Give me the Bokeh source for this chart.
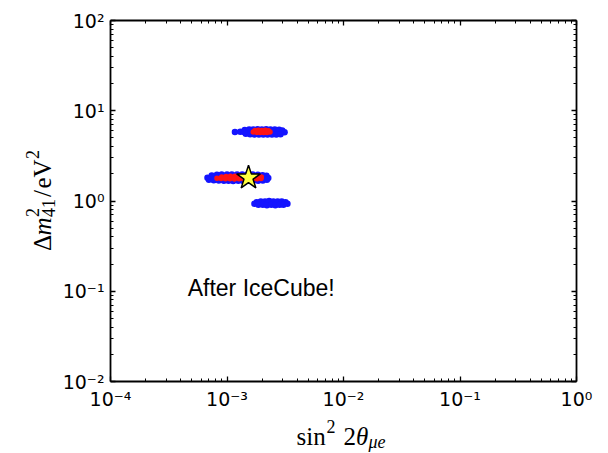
import math
from bokeh.plotting import figure
from bokeh.models import Range1d, LogAxis, FixedTicker, CustomJSTickFormatter, Label
from bokeh.embed import file_html
from bokeh.resources import INLINE

# ---------------- data ----------------
# blue points: all allowed fit points, three islands
blue_x = [
    # middle island (~1.8 eV^2)
    7.4e-4, 8.2e-4, 9.0e-4, 1.00e-3, 1.10e-3, 1.22e-3, 1.35e-3, 1.50e-3, 1.66e-3, 1.84e-3, 2.02e-3, 2.18e-3,
    6.8e-4, 7.4e-4, 8.1e-4, 8.9e-4, 9.8e-4, 1.08e-3, 1.19e-3, 1.31e-3, 1.44e-3, 1.58e-3, 1.74e-3, 1.91e-3, 2.10e-3, 2.26e-3,
    7.0e-4, 7.7e-4, 8.5e-4, 9.4e-4, 1.03e-3, 1.13e-3, 1.25e-3, 1.38e-3, 1.52e-3, 1.68e-3, 1.85e-3, 2.03e-3, 2.20e-3,
    # upper island (~5.8 eV^2)
    1.42e-3, 1.55e-3, 1.68e-3, 1.83e-3, 1.99e-3, 2.17e-3, 2.36e-3, 2.57e-3, 2.80e-3, 2.98e-3,
    1.17e-3, 1.30e-3, 1.40e-3, 1.52e-3, 1.65e-3, 1.80e-3, 1.96e-3, 2.13e-3, 2.32e-3, 2.52e-3, 2.74e-3, 2.97e-3, 3.12e-3,
    1.45e-3, 1.58e-3, 1.72e-3, 1.88e-3, 2.05e-3, 2.23e-3, 2.43e-3, 2.65e-3, 2.88e-3,
    # lower island (~0.95 eV^2)
    1.80e-3, 1.95e-3, 2.12e-3, 2.30e-3, 2.50e-3, 2.72e-3, 2.95e-3, 3.18e-3,
    1.72e-3, 1.86e-3, 2.03e-3, 2.20e-3, 2.40e-3, 2.60e-3, 2.83e-3, 3.05e-3, 3.30e-3,
]
blue_y = [
    1.92, 1.95, 1.96, 1.96, 1.97, 1.96, 1.97, 1.96, 1.96, 1.95, 1.93, 1.90,
    1.81, 1.82, 1.81, 1.82, 1.81, 1.82, 1.81, 1.82, 1.81, 1.82, 1.81, 1.82, 1.81, 1.80,
    1.72, 1.70, 1.69, 1.68, 1.68, 1.67, 1.68, 1.67, 1.68, 1.67, 1.68, 1.69, 1.72,
    6.10, 6.20, 6.20, 6.22, 6.20, 6.22, 6.20, 6.20, 6.15, 6.05,
    5.80, 5.85, 5.80, 5.81, 5.80, 5.82, 5.80, 5.81, 5.80, 5.82, 5.80, 5.80, 5.78,
    5.55, 5.50, 5.46, 5.45, 5.44, 5.45, 5.46, 5.45, 5.50,
    0.97, 0.99, 0.99, 1.00, 0.99, 0.99, 0.99, 0.97,
    0.93, 0.91, 0.91, 0.90, 0.91, 0.90, 0.91, 0.91, 0.93,
]

# red points: best-fit cores
red_x = [
    # middle island
    9.0e-4, 9.8e-4, 1.07e-3, 1.17e-3, 1.28e-3, 1.40e-3, 1.53e-3, 1.67e-3, 1.83e-3, 1.97e-3,
    8.2e-4, 8.9e-4, 9.7e-4, 1.06e-3, 1.16e-3, 1.27e-3, 1.39e-3, 1.52e-3, 1.66e-3, 1.81e-3, 1.96e-3,
    # upper island
    1.74e-3, 1.86e-3, 1.99e-3, 2.13e-3, 2.27e-3,
    1.68e-3, 1.80e-3, 1.93e-3, 2.06e-3, 2.20e-3, 2.34e-3,
]
red_y = [
    1.85, 1.87, 1.88, 1.88, 1.89, 1.88, 1.89, 1.88, 1.87, 1.85,
    1.79, 1.77, 1.76, 1.76, 1.75, 1.76, 1.75, 1.76, 1.75, 1.76, 1.78,
    6.05, 6.07, 6.05, 6.07, 6.00,
    5.80, 5.75, 5.74, 5.75, 5.74, 5.80,
]

# best-fit point (star)
best_x = [1.53e-3]
best_y = [1.81]

x_decades = [1e-4, 1e-3, 1e-2, 1e-1, 1.0]
y_decades = [1e-2, 1e-1, 1.0, 1e1, 1e2]

# ---------------- layout geometry ----------------
W, H = 608, 453
FL, FR, FT, FB = 110, 32, 20, 72          # plot box inside the canvas
ppd_x = (W - FL - FR) / 4.0               # pixels per decade
ppd_y = (H - FT - FB) / 4.0
x_start = 10 ** (-4 - FL / ppd_x)
x_end = 10 ** (0 + FR / ppd_x)
y_start = 10 ** (-2 - FB / ppd_y)
y_end = 10 ** (2 + FT / ppd_y)

p = figure(width=W, height=H, x_axis_type="log", y_axis_type="log",
           x_range=Range1d(x_start, x_end), y_range=Range1d(y_start, y_end),
           output_backend="svg", toolbar_location=None, title=None,
           min_border=0)
p.grid.visible = False
p.background_fill_color = "white"
p.border_fill_color = "white"
p.outline_line_color = None

def minors(decs):
    out = []
    for d in decs[:-1]:
        for k in range(2, 10):
            out.append(k * d)
    return out

fmt_code = r"""
const e = Math.round(Math.log10(tick));
const m = {"-":"\u207b","0":"\u2070","1":"\u00b9","2":"\u00b2","3":"\u00b3","4":"\u2074"};
let s = "";
for (const c of String(e)) s += m[c];
return "10" + s;
"""

def style_axis(ax, decs, loc, show_labels):
    ax.ticker = FixedTicker(ticks=decs, minor_ticks=minors(decs))
    if show_labels:
        ax.formatter = CustomJSTickFormatter(code=fmt_code)
    else:
        ax.formatter = CustomJSTickFormatter(code='return "";')
    ax.fixed_location = loc
    ax.bounds = (decs[0], decs[-1])
    ax.axis_line_color = "black"
    ax.axis_line_width = 1.8
    ax.major_tick_in = 5
    ax.major_tick_out = 0
    ax.minor_tick_in = 3
    ax.minor_tick_out = 0
    ax.major_tick_line_width = 1.3
    ax.minor_tick_line_width = 1.0
    ax.major_tick_line_color = "black"
    ax.minor_tick_line_color = "black"
    ax.major_label_text_font = "DejaVu Sans"
    ax.major_label_text_color = "black"
    ax.major_label_standoff = 6
    ax.major_label_text_font_size = "19px"
    ax.axis_label = None

style_axis(p.xaxis[0], x_decades, y_decades[0], True)
style_axis(p.yaxis[0], y_decades, x_decades[0], True)
top = LogAxis()
right = LogAxis()
style_axis(top, x_decades, y_decades[-1], False)
style_axis(right, y_decades, x_decades[-1], False)
p.add_layout(top, "above")
p.add_layout(right, "right")

# ---------------- glyphs ----------------
p.scatter(blue_x, blue_y, size=6.5, fill_color="#1414ff", line_color=None)
p.scatter(red_x, red_y, size=5.5, fill_color="#ff1414", line_color=None)
p.scatter(best_x, best_y, marker="star", size=25, fill_color="#ffff40",
          line_color="black", line_width=1.5)

p.add_layout(Label(x=4.6e-4, y=0.108, text="After IceCube!",
                   text_font="Liberation Sans", text_font_size="23px",
                   text_color="black", text_baseline="alphabetic", text_align="left"))

# ---------------- axis titles (built from pieces) ----------------
SERIF = "Liberation Serif"

def piece(text, cx, cy, size, style="normal", angle=0.0):
    # cx, cy: canvas pixels from the top-left corner (baseline start of the text)
    p.add_layout(Label(x=cx, y=H - cy, x_units="screen", y_units="screen",
                       text=text, text_font=SERIF, text_font_size=f"{size}px",
                       text_font_style=style, text_color="black", angle=angle,
                       text_baseline="alphabetic", text_align="left"))

# x title: sin^2 2theta_{mu e}
xb = 436
piece("sin", 296, xb, 25)
piece("2", 326, xb - 10, 18)
piece("2", 343, xb, 25)
piece("θ", 355.5, xb, 25, "italic")
piece("μe", 368, xb + 5, 18, "italic")

# y title: Delta m^2_41 / eV^2 (rotated)
a = math.pi / 2
y0, bx = 250.5, 42
piece("Δ", bx, y0 - 0, 25, "normal", a)
piece("m", bx, y0 - 15.5, 25, "italic", a)
piece("2", bx - 10, y0 - 34, 18, "normal", a)
piece("41", bx + 6, y0 - 34, 18, "normal", a)
piece("/", bx, y0 - 54, 25, "normal", a)
piece("eV", bx, y0 - 62.5, 25, "normal", a)
piece("2", bx - 10, y0 - 92, 18, "normal", a)

open("out.html", "w").write(file_html(p, INLINE))
